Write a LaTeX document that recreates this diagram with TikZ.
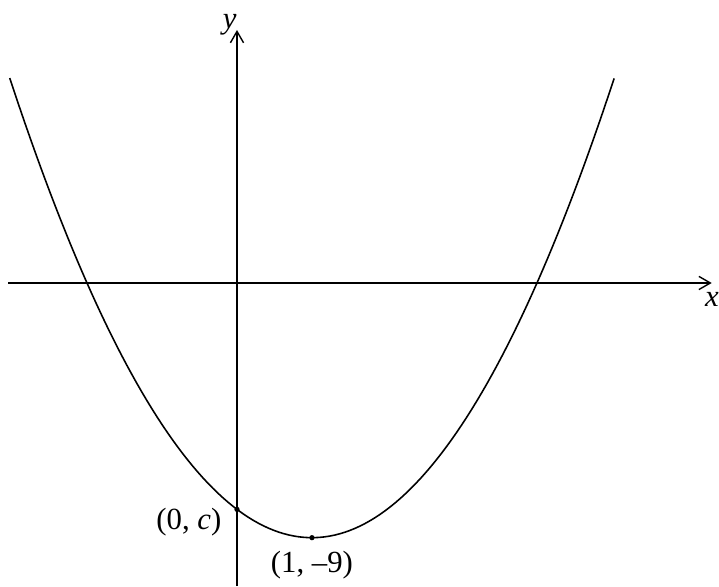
\documentclass[tikz,border=0pt]{standalone}
\usepackage{fontspec}
\setmainfont{Liberation Serif}
\usetikzlibrary{arrows.meta,positioning}
\tikzset{
  axis/.style={-{Straight Barb[length=6.5pt,width=7.5pt]},line width=0.8pt},
  curve/.style={line width=0.9pt},
  pt/.style={circle,fill,inner sep=0pt,minimum size=3pt},
  lbl/.style={inner sep=0pt,font=\fontsize{17.5}{21}\selectfont},
}

\begin{document}
\begin{tikzpicture}[x=1.5cm,y=0.566cm]
  \useasboundingbox (-3.16,-10.71) rectangle (6.427,10.0);

  % axes
  \coordinate (xmin) at (-3.05,0);
  \coordinate (xmax) at (6.33,0);
  \coordinate (ymin) at (0,-10.71);
  \coordinate (ymax) at (0,8.94);
  \draw[axis] (xmin) -- (xmax);
  \draw[axis] (ymin) -- (ymax);
  \node[lbl,font=\fontsize{17.5}{21}\selectfont\itshape,below right=5pt and -4pt of xmax] (xlbl) {x};
  \node[lbl,font=\fontsize{17.5}{21}\selectfont\itshape,above left=-3pt and 0pt of ymax] (ylbl) {y};

  % parabola y = (x-1)^2 - 9
  \draw[curve,domain=-3.03:5.03,samples=120] plot (\x,{(\x-1)^2-9});

  \node[pt] (yint) at (0,-8) {};
  \node[pt] (vertex) at (1,-9) {};
  \node[lbl,left=7pt of yint,yshift=-7.5pt] (yintlbl) {(0, \textit{c})};
  \node[lbl,below=6pt of vertex] (vertexlbl) {(1, --9)};
\end{tikzpicture}
\end{document}
